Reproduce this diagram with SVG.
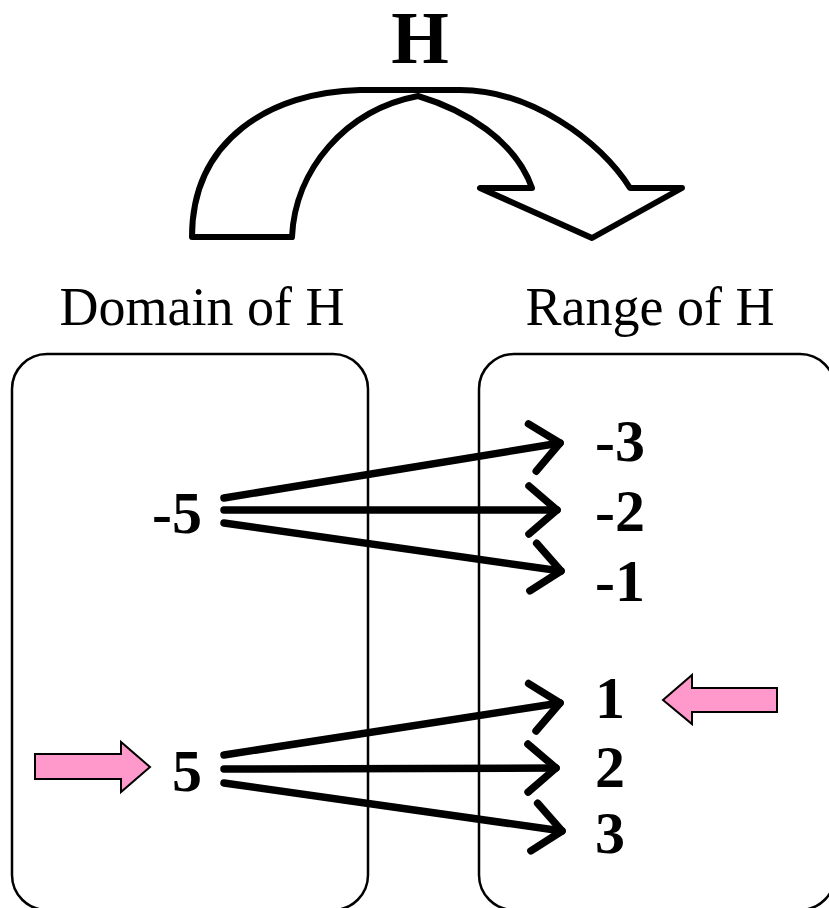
<svg xmlns="http://www.w3.org/2000/svg" width="829" height="908" viewBox="0 0 829 908">
<style>
.box{fill:none;stroke:#000;stroke-width:2.5}
.lbl{font-family:"Liberation Serif","Times New Roman",serif;font-size:54px;fill:#000}
.num{font-family:"Liberation Serif","Times New Roman",serif;font-size:60px;font-weight:bold;fill:#000}
.conn{stroke:#000;stroke-width:7.5;stroke-linecap:round;fill:none}
.pink{fill:#FF99CC;stroke:#000;stroke-width:2;stroke-linejoin:miter}
</style>
<defs>
<marker id="vhead" markerUnits="userSpaceOnUse" markerWidth="60" markerHeight="60" viewBox="-40 -30 50 60" refX="0" refY="0" orient="auto" overflow="visible">
<path d="M-28,-24 L0,0 L-28,24" fill="none" stroke="#000" stroke-width="7.5" stroke-linecap="round" stroke-linejoin="round"/>
</marker>
</defs>
<rect width="829" height="908" fill="#fff"/>
<g id="title">
<text x="420" y="63" text-anchor="middle" font-family="Liberation Serif, Times New Roman, serif" font-size="74" font-weight="bold">H</text>
<path d="M192,237 C192,140 270,92 360,90 L460,90 C530,90 600,140 630,188 L682,188 L592,238 L480,188 L532,188 C515,140 465,110 418,96 C345,110 295,170 292,237 Z" fill="#fff" stroke="#000" stroke-width="6" stroke-linejoin="round"/>
</g>
<g id="domain">
<rect class="box" x="12" y="354" width="356" height="556" rx="35" ry="35"/>
<text class="lbl" x="202" y="325" text-anchor="middle">Domain of H</text>
</g>
<g id="range">
<rect class="box" x="479" y="354" width="356" height="556" rx="35" ry="35"/>
<text class="lbl" x="650" y="325" text-anchor="middle">Range of H</text>
</g>
<g id="n-5"><text class="num" x="202" y="533" text-anchor="end">-5</text></g>
<g id="n5"><text class="num" x="202" y="791" text-anchor="end">5</text></g>
<g id="r-3"><text class="num" x="595" y="461">-3</text></g>
<g id="r-2"><text class="num" x="595" y="531">-2</text></g>
<g id="r-1"><text class="num" x="595" y="601">-1</text></g>
<g id="r1"><text class="num" x="595" y="718">1</text></g>
<g id="r2"><text class="num" x="595" y="787">2</text></g>
<g id="r3"><text class="num" x="595" y="853">3</text></g>
<g id="pointer-left">
<polygon class="pink" points="35,754 121,754 121,742 150,767 121,792 121,779 35,779"/>
</g>
<g id="pointer-right">
<polygon class="pink" points="777,688 692,688 692,675 663,700 692,724 692,712 777,712"/>
</g>
<g id="connectors">
<line class="conn" x1="224" y1="498" x2="560" y2="443" marker-end="url(#vhead)"/>
<line class="conn" x1="224" y1="510" x2="557" y2="510" marker-end="url(#vhead)"/>
<line class="conn" x1="224" y1="523" x2="561" y2="571" marker-end="url(#vhead)"/>
<line class="conn" x1="224" y1="755" x2="560" y2="703" marker-end="url(#vhead)"/>
<line class="conn" x1="224" y1="769" x2="556" y2="768" marker-end="url(#vhead)"/>
<line class="conn" x1="224" y1="783" x2="562" y2="831" marker-end="url(#vhead)"/>
</g>
</svg>
